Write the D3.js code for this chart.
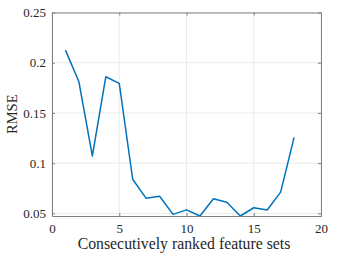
<!DOCTYPE html>
<html><head><meta charset="utf-8">
<script src="https://cdn.jsdelivr.net/npm/d3@7"></script>
<style>body{margin:0;background:#fff;} text{font-family:"Liberation Serif","DejaVu Serif",serif;}</style>
</head><body>
<svg id="c" width="337" height="257"></svg>
<script>
const xValues = [1,2,3,4,5,6,7,8,9,10,11,12,13,14,15,16,17,18];
const rmse = [0.2125,0.181,0.1072,0.186,0.1795,0.0840,0.0650,0.0670,0.0490,0.0535,0.0474,0.0645,0.0610,0.0474,0.0556,0.0533,0.0712,0.1257];
const xTicks = [0,5,10,15,20];
const yTicks = [0.05,0.1,0.15,0.2,0.25];
const yTickLabels = ["0.05","0.1","0.15","0.2","0.25"];
const xLabel = "Consecutively ranked feature sets";
const yLabel = "RMSE";

const svg = d3.select("#c");
const L=52, R=321, T=12.5, B=216;
const x = d3.scaleLinear().domain([0,20]).range([L,R]);
const y = d3.scaleLinear().domain([d3.min(rmse),0.25]).range([B,T]);
const g = svg.append("g");
// grid
g.selectAll(".gx").data(xTicks).enter().append("line")
 .attr("x1",d=>x(d)).attr("x2",d=>x(d)).attr("y1",T).attr("y2",B)
 .attr("stroke","#ebebeb").attr("stroke-width",1);
g.selectAll(".gy").data(yTicks).enter().append("line")
 .attr("x1",L).attr("x2",R).attr("y1",d=>y(d)).attr("y2",d=>y(d))
 .attr("stroke","#ebebeb").attr("stroke-width",1);
// line
const line = d3.line().x((d,i)=>x(xValues[i])).y(d=>y(d));
g.append("path").datum(rmse).attr("d",line).attr("fill","none")
 .attr("stroke","#0072BD").attr("stroke-width",1.5).attr("stroke-linejoin","round");
// axes
const xa = svg.append("g").attr("transform",`translate(0,${B})`)
 .call(d3.axisBottom(x).tickValues(xTicks).tickSize(-3).tickPadding(8).tickSizeOuter(0));
const xt = svg.append("g").attr("transform",`translate(0,${T})`)
 .call(d3.axisTop(x).tickValues(xTicks).tickSize(-3).tickFormat("").tickSizeOuter(0));
const ya = svg.append("g").attr("transform",`translate(${L},0)`)
 .call(d3.axisLeft(y).tickValues(yTicks).tickFormat((d,i)=>yTickLabels[i]).tickSize(-3).tickPadding(6).tickSizeOuter(0));
const yr = svg.append("g").attr("transform",`translate(${R},0)`)
 .call(d3.axisRight(y).tickValues(yTicks).tickFormat("").tickSize(-3).tickSizeOuter(0));
[xa,xt,ya,yr].forEach(a=>{
  a.select(".domain").attr("stroke","#808080");
  a.selectAll(".tick line").attr("stroke","#808080");
  a.selectAll("text").attr("fill","#262626").style("font-size","13px").style("font-family","'Liberation Serif',serif");
});
svg.append("text").attr("x",184).attr("y",249).attr("text-anchor","middle")
 .attr("fill","#262626").style("font-size","15.8px").text(xLabel);
svg.append("text").attr("transform",`translate(17,${(T+B)/2}) rotate(-90)`).attr("text-anchor","middle")
 .attr("fill","#262626").style("font-size","14.5px").text(yLabel);
</script>
</body></html>
